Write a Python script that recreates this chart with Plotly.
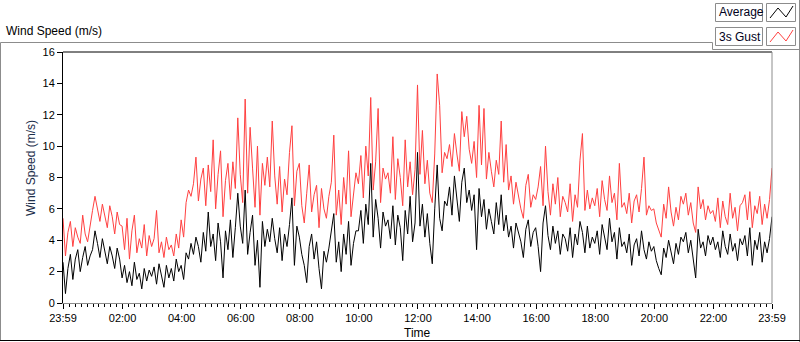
import pandas as pd
import plotly.graph_objects as go

# ---------------- data (5-minute samples, 23:59 -> 23:59) ----------------
average = [
    2.6, 0.6, 2.2, 3.1, 1.5, 2.8, 3.4, 2.0, 2.9, 3.6, 2.4, 3.0,
    3.4, 4.6, 3.8, 2.9, 4.1, 3.3, 2.5, 3.6, 3.0, 2.2, 3.5, 2.8,
    1.6, 2.4, 1.3, 2.0, 1.1, 2.6, 1.5, 1.9, 0.9, 2.2, 1.4, 2.1,
    1.7, 2.3, 1.2, 2.5, 1.8, 1.0, 2.4, 1.6, 2.2, 1.4, 2.8, 2.0,
    2.4, 1.5, 3.2, 2.8, 3.8, 3.1, 4.2, 3.6, 2.6, 4.5, 3.3, 5.8,
    3.6, 4.4, 2.7, 5.1, 3.9, 1.6, 4.6, 3.4, 5.3, 2.9, 4.8, 7.0,
    4.9, 3.8, 7.2, 3.1, 4.5, 5.6, 2.4, 4.0, 1.0, 5.2, 3.6, 4.7,
    3.9, 5.4, 4.1, 3.2, 4.8, 2.7, 4.4, 3.6, 5.0, 6.7, 2.4, 4.9,
    4.2, 3.1, 2.4, 1.3, 3.6, 4.4, 2.8, 3.9, 2.2, 0.9, 3.3, 2.6,
    3.5, 4.7, 5.7, 2.6, 3.9, 2.0, 4.4, 3.1, 5.2, 2.4, 3.8, 4.6,
    4.6, 5.9, 3.8, 6.3, 5.0, 8.9, 4.2, 6.6, 5.4, 3.5, 5.8, 4.9,
    5.3, 4.1, 6.2, 3.7, 5.6, 4.8, 2.7, 5.9, 4.4, 6.8, 3.9, 5.1,
    9.6, 4.9, 6.3, 4.2, 5.7, 3.8, 2.5, 6.0, 8.8, 5.4, 4.6, 6.5,
    6.2, 7.4, 5.6, 8.1, 6.8, 5.2, 7.7, 8.6, 6.4, 7.2, 5.9, 6.9,
    3.4, 7.3, 5.5, 6.6, 4.7, 6.0, 5.2, 4.4, 6.4, 5.0, 6.9, 4.6,
    5.6, 4.2, 4.9, 3.5, 5.1, 4.4, 3.9, 2.9, 4.7, 5.3, 3.6, 4.5,
    4.8, 3.6, 2.0, 5.1, 6.2, 4.3, 3.4, 4.9, 3.8, 4.6, 3.1, 4.4,
    4.1, 3.3, 4.8, 2.9, 4.4, 3.7, 5.2, 4.5, 3.2, 4.9, 3.5, 4.2,
    3.8, 4.6, 3.1, 5.0, 4.2, 3.4, 5.4, 3.9, 4.5, 2.8, 4.8, 3.6,
    3.9, 3.2, 4.4, 2.4, 3.7, 4.1, 3.0, 4.6, 3.4, 2.8, 3.9, 3.3,
    3.6, 2.7, 2.2, 1.8, 3.5, 2.9, 4.0, 3.3, 2.5, 3.8, 3.1, 4.2,
    3.9, 4.5, 3.2, 4.0, 2.8, 1.6, 4.7, 3.5, 3.9, 3.0, 4.3, 3.7,
    4.2, 3.4, 3.9, 2.9, 4.6, 3.6, 3.1, 4.4, 3.3, 3.8, 2.7, 4.1,
    3.7, 4.3, 3.0, 4.8, 2.4, 4.0, 3.4, 4.5, 2.6, 3.9, 3.2, 4.1,
    5.5,
]

gust = [
    5.4, 3.0, 4.5, 5.2, 3.6, 4.8, 4.2, 3.8, 5.6, 4.4, 3.9, 5.0,
    5.9, 6.8, 6.1, 5.2, 6.3, 5.6, 4.8, 6.2, 5.5, 4.4, 5.8, 5.0,
    4.9, 3.4, 5.4, 2.8, 4.6, 5.6, 3.2, 4.1, 3.5, 5.0, 3.0, 4.3,
    3.6, 4.1, 5.9, 3.2, 3.9, 2.9, 4.2, 3.4, 3.7, 3.0, 4.4, 3.5,
    5.3, 4.2, 6.4, 7.2, 6.8, 7.6, 9.3, 6.5, 7.9, 8.6, 6.2, 8.8,
    7.1, 10.4, 6.0, 8.2, 9.7, 5.5, 7.8, 8.9, 6.6, 9.0, 7.3, 11.8,
    8.2, 6.4, 13.0, 7.0, 11.2, 8.6, 6.1, 10.0, 5.6, 8.9, 7.5, 9.3,
    7.4, 11.6, 8.1, 6.3, 8.7, 5.8, 7.9, 6.9, 9.6, 11.3, 6.2, 8.4,
    8.9, 6.2, 5.1, 7.0, 8.8, 5.8, 6.9, 7.5, 4.8, 7.3, 6.0, 5.4,
    6.8, 7.7, 10.7, 5.6, 7.2, 5.0, 8.0, 6.3, 9.7, 5.5, 6.9, 8.3,
    7.6, 9.4, 6.7, 10.0, 8.1, 13.1, 7.2, 9.0, 12.4, 6.4, 8.6, 7.9,
    8.3, 7.0, 10.6, 6.6, 9.2, 8.0, 6.2, 10.4, 7.4, 9.0, 6.9, 8.5,
    13.9, 8.2, 11.0, 7.6, 9.1, 7.0, 6.4, 9.5, 14.6, 12.6, 8.3, 9.6,
    9.2, 10.1, 8.7, 10.8, 9.5, 8.4, 12.2, 10.6, 11.9, 9.8, 8.9, 10.3,
    8.0, 12.6, 8.8, 12.4, 7.9, 9.6, 8.4, 7.4, 9.1, 8.2, 11.6, 7.7,
    10.1, 7.2, 8.1, 6.3, 7.7, 6.8, 6.0, 5.4, 7.5, 8.2, 6.1, 6.9,
    6.6, 7.4, 8.7, 6.2, 10.0, 7.1, 5.6, 7.6, 6.3, 8.0, 5.5, 6.8,
    6.4, 5.8, 7.6, 5.2, 6.9, 6.1, 9.1, 10.8, 5.9, 7.2, 6.0, 6.7,
    6.2, 7.3, 5.5, 7.8, 6.6, 5.9, 8.1, 6.4, 7.0, 5.3, 8.9, 6.1,
    6.4, 5.7, 7.0, 5.1, 6.5, 6.9, 5.8, 7.3, 9.3, 5.6, 6.2, 5.9,
    6.0, 5.1, 4.6, 4.2, 6.3, 5.4, 7.4, 5.8, 4.9, 6.1, 5.3, 6.8,
    6.3, 7.0, 5.6, 6.4, 5.1, 4.5, 7.4, 6.0, 6.6, 5.3, 6.2, 5.7,
    5.9, 5.2, 6.7, 4.8, 6.5, 5.5, 5.0, 7.0, 5.4, 6.1, 4.6, 6.2,
    6.4, 6.9, 5.3, 7.1, 4.8, 6.2, 5.7, 6.8, 5.0, 6.3, 5.4, 6.6,
    8.6,
]

tick_labels = ["23:59", "02:00", "04:00", "06:00", "08:00", "10:00", "12:00",
               "14:00", "16:00", "18:00", "20:00", "22:00", "23:59"]
tick_times = ["2024-01-01 23:59", "2024-01-02 02:00", "2024-01-02 04:00",
              "2024-01-02 06:00", "2024-01-02 08:00", "2024-01-02 10:00",
              "2024-01-02 12:00", "2024-01-02 14:00", "2024-01-02 16:00",
              "2024-01-02 18:00", "2024-01-02 20:00", "2024-01-02 22:00",
              "2024-01-02 23:59"]
series_names = ["Average", "3s Gust"]

times = pd.date_range("2024-01-01 23:59", periods=len(average), freq="5min")

# ---------------- figure ----------------
W, H = 800, 342
L, R, T, B = 63, 28, 52, 39
PW, PH = W - L - R, H - T - B
FONT = "Liberation Sans, Arial, sans-serif"


def px(x):
    return (x - L) / PW


def py(y):
    return (H - B - y) / PH


fig = go.Figure()
fig.add_trace(go.Scatter(x=times, y=gust, mode="lines", name=series_names[1],
                         line=dict(color="#ff4040", width=1)))
fig.add_trace(go.Scatter(x=times, y=average, mode="lines", name=series_names[0],
                         line=dict(color="#000000", width=1)))

fig.update_layout(
    width=W, height=H,
    margin=dict(l=L, r=R, t=T, b=B, pad=0),
    paper_bgcolor="white", plot_bgcolor="white",
    showlegend=False,
    font=dict(family=FONT, size=11, color="#000000"),
)
fig.update_xaxes(
    range=[times[0], times[-1]],
    tickmode="array", tickvals=pd.to_datetime(tick_times), ticktext=tick_labels,
    ticks="outside", ticklen=5, tickcolor="#000000", tickwidth=1,
    minor=dict(tickmode="linear", tick0="2024-01-02 00:00", dtick=12 * 60 * 1000,
               ticks="outside", ticklen=3, tickcolor="#000000", showgrid=False),
    showgrid=False, zeroline=False,
    showline=True, linecolor="#8c8c8c", linewidth=1,
    tickfont=dict(family=FONT, size=11, color="#000000"),
)
fig.update_yaxes(
    range=[0, 16], tickmode="linear", tick0=0, dtick=2,
    ticks="outside", ticklen=5, tickcolor="#000000", tickwidth=1,
    showgrid=False, zeroline=False,
    showline=True, linecolor="#000000", linewidth=1,
    tickfont=dict(family=FONT, size=11, color="#000000"),
)

shapes = []
# plot-area top (black) and right (gray) edges
shapes.append(dict(type="line", xref="paper", yref="paper", x0=0, x1=1, y0=1, y1=1,
                   line=dict(color="#000000", width=1)))
shapes.append(dict(type="line", xref="paper", yref="paper", x0=1, x1=1, y0=0, y1=1,
                   line=dict(color="#8c8c8c", width=1)))
# outer frame
gray = "#8c8c8c"
frame = [
    (0.5, 42.5, 712.5, 42.5, gray),
    (712.5, 42.5, 712.5, 49.5, gray),
    (712.5, 49.5, 799, 49.5, gray),
    (799.5, 0, 799.5, 342, gray),
    (0.5, 42.5, 0.5, 341, gray),
    (0, 340.5, 800, 340.5, "#000000"),
]
for x0, y0, x1, y1, c in frame:
    shapes.append(dict(type="line", xref="paper", yref="paper",
                       x0=px(x0), y0=py(y0), x1=px(x1), y1=py(y1),
                       line=dict(color=c, width=1)))

annotations = []
# legend boxes
legend_rows = [(3, series_names[0], "#000000"), (27, series_names[1], "#ff4040")]
for top, name, col in legend_rows:
    bot = top + 18
    shapes.append(dict(type="rect", xref="paper", yref="paper",
                       x0=px(715.5), x1=px(762.5), y0=py(bot + 0.5), y1=py(top + 0.5),
                       line=dict(color=gray, width=1), fillcolor="white"))
    shapes.append(dict(type="rect", xref="paper", yref="paper",
                       x0=px(766.5), x1=px(795.5), y0=py(bot + 0.5), y1=py(top + 0.5),
                       line=dict(color=gray, width=1), fillcolor="white"))
    pts = [(770, bot - 3), (778, top + 5), (786, bot - 4), (793, top + 3)]
    path = "M " + " L ".join(f"{px(a)},{py(b)}" for a, b in pts)
    shapes.append(dict(type="path", xref="paper", yref="paper", path=path,
                       line=dict(color=col, width=1)))
    annotations.append(dict(xref="paper", yref="paper", x=px(717), y=py(top + 9.5),
                            text=name, showarrow=False, xanchor="left", yanchor="middle",
                            font=dict(family=FONT, size=12, color="#000020")))

# titles
annotations.append(dict(xref="paper", yref="paper", x=px(4), y=py(31),
                        text="Wind Speed (m/s)", showarrow=False,
                        xanchor="left", yanchor="middle",
                        font=dict(family=FONT, size=12, color="#000000")))
annotations.append(dict(xref="paper", yref="paper", x=px(31), y=py(168),
                        text="Wind Speed (m/s)", showarrow=False, textangle=-90,
                        xanchor="center", yanchor="middle",
                        font=dict(family=FONT, size=12, color="#1c2e4a")))
annotations.append(dict(xref="paper", yref="paper", x=px(417), y=py(333),
                        text="Time", showarrow=False,
                        xanchor="center", yanchor="middle",
                        font=dict(family=FONT, size=12, color="#000000")))

fig.update_layout(shapes=shapes, annotations=annotations)
fig.write_html(
    "out.html",
    config={"displayModeBar": False},
    post_script="document.body.style.margin='0';document.body.style.overflow='hidden';",
)
